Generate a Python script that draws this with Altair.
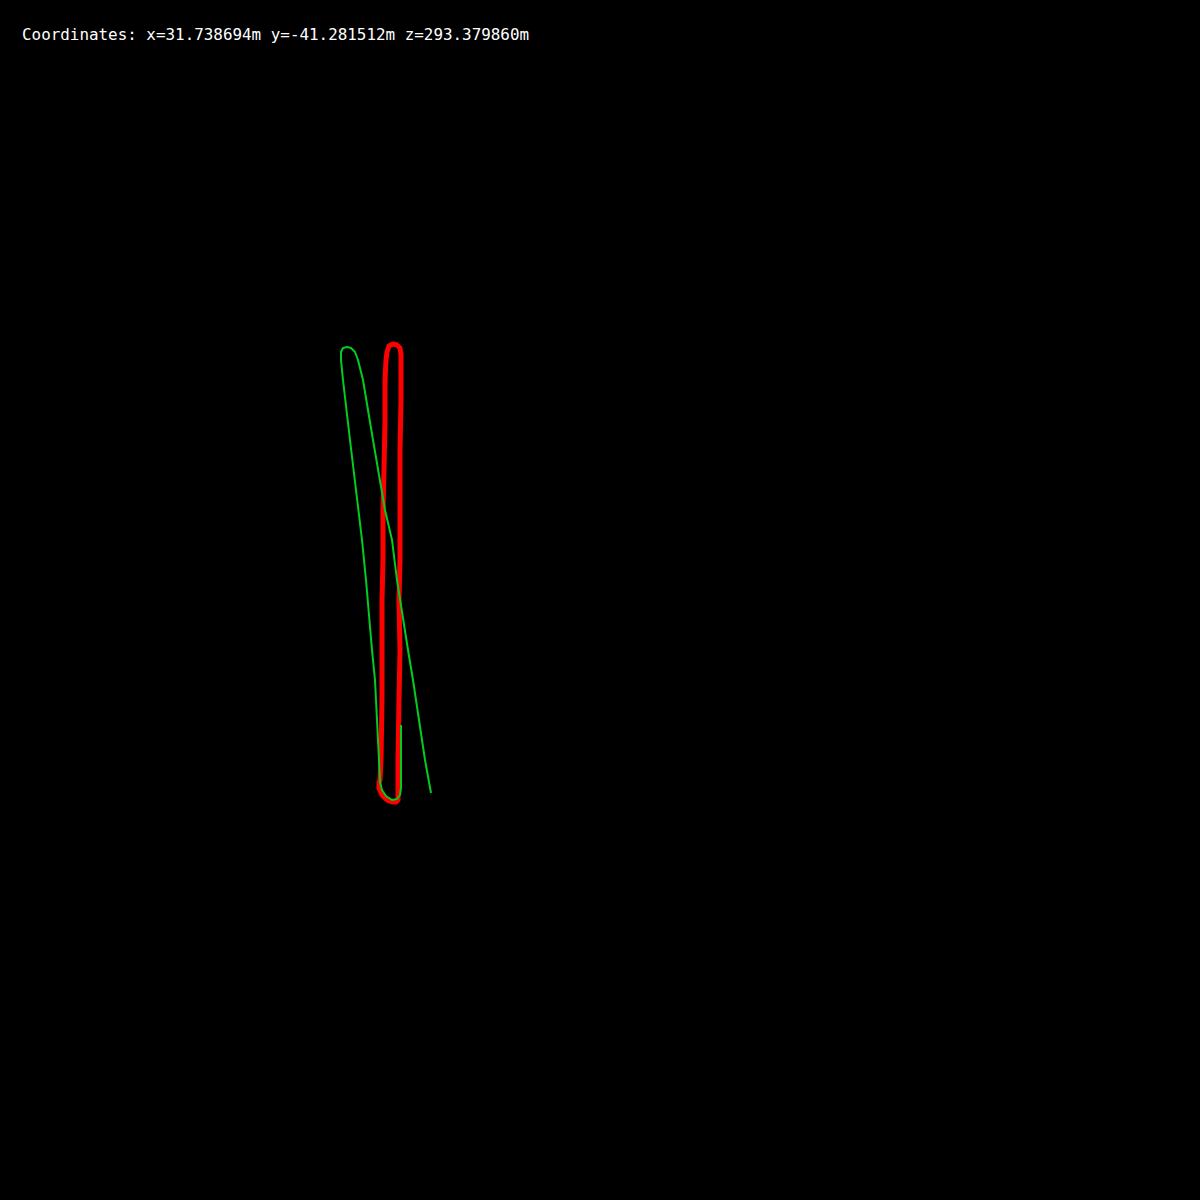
import altair as alt
import pandas as pd

# Trajectory estimates (screen units, y grows downward)
red_x = [380, 381, 382, 382, 382, 383, 383, 384, 385, 385, 386, 387, 389, 393, 397, 400, 401, 401, 400, 400, 400, 399, 400, 399, 398, 398, 398, 396, 392, 387, 382, 379, 379, 380]
red_y = [780, 760, 700, 650, 600, 560, 510, 470, 420, 380, 360, 352, 346, 344, 345, 348, 355, 400, 450, 500, 560, 600, 650, 700, 760, 790, 800, 802, 802, 800, 795, 788, 782, 780]

green_x = [431, 425, 419, 413, 408, 397, 392, 385, 373, 363, 358, 355, 351, 347, 343, 341, 341, 343, 350, 362, 366, 372, 375, 377, 379, 380, 382, 386, 392, 397, 400, 401, 401, 401]
green_y = [793, 760, 720, 680, 650, 580, 540, 510, 440, 380, 360, 352, 348, 347, 348, 352, 360, 380, 440, 540, 580, 650, 680, 720, 760, 782, 790, 796, 800, 799, 795, 788, 760, 725]

coord_text = ["Coordinates: x=31.738694m y=-41.281512m z=293.379860m"]

red = pd.DataFrame({"x": red_x, "y": red_y, "i": range(len(red_x))})
green = pd.DataFrame({"x": green_x, "y": green_y, "i": range(len(green_x))})
txt = pd.DataFrame({"t": coord_text})

xs = alt.Scale(domain=[0, 1200], nice=False, zero=False)
ys = alt.Scale(domain=[0, 1200], nice=False, zero=False, reverse=True)

red_line = alt.Chart(red).mark_line(color="#ff0000", strokeWidth=5, strokeJoin="round", strokeCap="round").encode(
    x=alt.X("x:Q", scale=xs, axis=None),
    y=alt.Y("y:Q", scale=ys, axis=None),
    order="i:Q",
)
green_line = alt.Chart(green).mark_line(color="#00cc22", strokeWidth=2, strokeJoin="round").encode(
    x=alt.X("x:Q", scale=xs, axis=None),
    y=alt.Y("y:Q", scale=ys, axis=None),
    order="i:Q",
)
label = alt.Chart(txt).mark_text(
    align="left", baseline="alphabetic", color="white", font="DejaVu Sans Mono", fontSize=15.9
).encode(x=alt.value(22), y=alt.value(40), text="t:N")

chart = alt.layer(red_line, green_line, label).properties(
    width=1200, height=1200, background="black", padding=0,
    autosize=alt.AutoSizeParams(type="none"),
).configure_view(stroke=None, fill="black")

chart.save("out.html", embed_options={"renderer": "svg", "actions": False})
